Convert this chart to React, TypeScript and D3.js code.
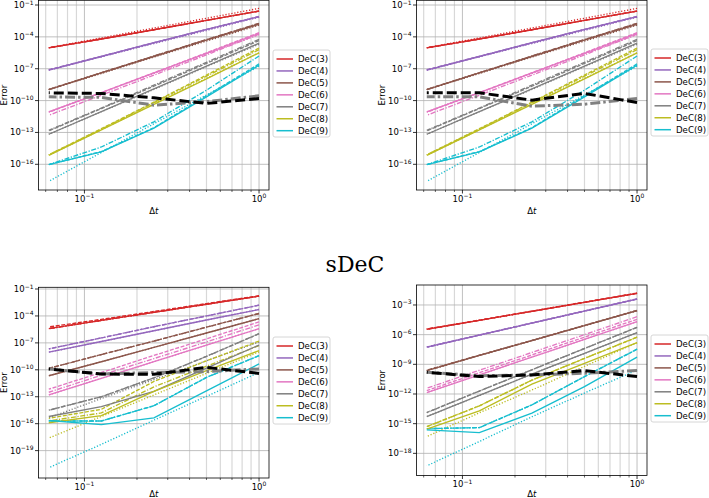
import React from "react";
import * as d3 from "d3";

// time steps
const dt = [1, 0.5, 0.25, 0.125, 0.0625];
const labels = ["DeC(3)", "DeC(4)", "DeC(5)", "DeC(6)", "DeC(7)", "DeC(8)", "DeC(9)"];
const colors = ["#d62728", "#9467bd", "#8c564b", "#e377c2", "#7f7f7f", "#bcbd22", "#17becf"];

// All error values given as log10(error), ordered like dt
// ---- top row (both panels share the coloured curves) ----
const topSolid = [
  [-1.57, -2.45, -3.33, -4.2, -5.03],
  [-2.1, -3.3, -4.55, -5.85, -7.13],
  [-2.82, -4.3, -5.85, -7.4, -8.96],
  [-3.67, -5.55, -7.4, -9.25, -11.06],
  [-4.6, -6.75, -8.9, -11.05, -13.17],
  [-5.5, -7.95, -10.35, -12.75, -15.15],
  [-6.66, -9.65, -12.6, -14.84, -16.03],
];
const topDashed = [
  [-1.57, -2.45, -3.33, -4.2, -5.03],
  [-2.08, -3.3, -4.55, -5.83, -7.1],
  [-2.75, -4.27, -5.82, -7.38, -8.95],
  [-3.6, -5.5, -7.38, -9.25, -11.1],
  [-4.35, -6.5, -8.65, -10.75, -12.85],
  [-5.05, -7.6, -10.15, -12.65, -15.1],
  [-6.55, -9.55, -12.55, -14.8, -16.03],
];
const topDashdot = [
  [-1.57, -2.45, -3.33, -4.2, -5.03],
  [-2.1, -3.32, -4.57, -5.85, -7.13],
  [-2.72, -4.25, -5.8, -7.38, -8.96],
  [-3.75, -5.7, -7.6, -9.5, -11.38],
  [-4.24, -6.4, -8.55, -10.7, -12.8],
  [-5.2, -7.7, -10.2, -12.7, -15.1],
  [-5.8, -9.02, -12.0, -14.37, -16.03],
];
const topDotted = [
  [-1.32, -2.25, -3.17, -4.1, -5.03],
  [-2.15, -3.4, -4.63, -5.88, -7.13],
  [-2.9, -4.4, -5.9, -7.45, -8.96],
  [-3.8, -5.6, -7.45, -9.25, -11.06],
  [-4.7, -6.8, -8.95, -11.05, -13.17],
  [-5.5, -7.9, -10.3, -12.75, -15.15],
  [-6.76, -9.47, -12.18, -14.89, -17.6],
];
const tlBlack = [-9.8, -10.27, -9.74, -9.33, -9.27];
const tlGray = [-9.55, -10.1, -10.43, -9.7, -9.65];
const trBlack = [-10.18, -9.33, -9.96, -9.27, -9.27];
const trGray = [-9.8, -10.34, -10.53, -9.65, -9.65];

// ---- bottom left ----
const blSolid = [
  [-1.79, -2.7, -3.6, -4.5, -5.42],
  [-3.28, -4.45, -5.65, -6.85, -8.04],
  [-4.3, -5.9, -7.5, -9.1, -10.66],
  [-5.42, -7.25, -9.1, -10.95, -12.8],
  [-7.24, -9.8, -12.4, -14.1, -15.2],
  [-7.85, -10.1, -12.4, -15.1, -15.9],
  [-9.35, -12.35, -15.35, -16.1, -15.65],
];
const blDashed = [
  [-1.75, -2.62, -3.5, -4.38, -5.23],
  [-2.8, -4.0, -5.2, -6.45, -7.67],
  [-3.73, -5.25, -6.8, -8.3, -9.84],
  [-4.67, -6.55, -8.4, -10.3, -12.16],
  [-5.98, -8.5, -10.9, -13.0, -14.5],
  [-6.8, -9.0, -11.3, -14.4, -15.4],
  [-8.42, -10.85, -14.0, -15.7, -15.7],
];
const blDashdot = [
  [-1.79, -2.7, -3.6, -4.5, -5.42],
  [-2.8, -4.0, -5.2, -6.45, -7.67],
  [-3.73, -5.25, -6.8, -8.3, -9.84],
  [-5.0, -6.9, -8.75, -10.6, -12.5],
  [-5.98, -8.5, -10.9, -13.0, -14.5],
  [-7.3, -9.6, -11.9, -14.8, -15.7],
  [-8.42, -10.85, -14.0, -15.7, -15.7],
];
const blDotted = [
  [-1.79, -2.7, -3.6, -4.5, -5.42],
  [-3.28, -4.45, -5.65, -6.85, -8.04],
  [-4.3, -5.9, -7.5, -9.1, -10.66],
  [-5.42, -7.25, -9.1, -10.95, -12.8],
  [-6.9, -9.0, -11.1, -13.2, -15.35],
  [-8.0, -10.4, -12.8, -15.2, -17.6],
  [-10.3, -12.95, -15.6, -18.3, -20.9],
];
const blBlack = [-10.4, -9.73, -10.5, -10.47, -9.9];
const blGray = [-9.9, -10.2, -10.3, -10.47, -9.9];

// ---- bottom right ----
const brSolid = [
  [-1.82, -2.73, -3.64, -4.55, -5.45],
  [-2.4, -3.62, -4.83, -6.05, -7.27],
  [-3.57, -5.08, -6.6, -8.1, -9.63],
  [-4.69, -6.48, -8.27, -10.06, -11.85],
  [-5.8, -7.9, -10.0, -12.15, -14.28],
  [-6.8, -8.9, -11.0, -13.7, -15.55],
  [-8.28, -11.25, -13.94, -15.9, -15.63],
];
const brDashed = [
  [-1.8, -2.71, -3.62, -4.53, -5.43],
  [-2.38, -3.6, -4.81, -6.03, -7.25],
  [-3.55, -5.06, -6.58, -8.08, -9.6],
  [-4.45, -6.25, -8.05, -9.85, -11.65],
  [-5.26, -7.4, -9.55, -11.7, -13.88],
  [-6.26, -8.4, -10.6, -13.2, -15.3],
  [-7.47, -10.24, -13.1, -15.4, -15.5],
];
const brDashdot = [
  [-1.82, -2.73, -3.64, -4.55, -5.45],
  [-2.4, -3.62, -4.83, -6.05, -7.27],
  [-3.57, -5.08, -6.6, -8.1, -9.63],
  [-4.18, -6.0, -7.8, -9.6, -11.42],
  [-5.26, -7.4, -9.55, -11.7, -13.88],
  [-6.26, -8.4, -10.6, -13.2, -15.3],
  [-7.47, -10.24, -13.1, -15.4, -15.5],
];
const brDotted = [
  [-1.82, -2.73, -3.64, -4.55, -5.45],
  [-2.4, -3.62, -4.83, -6.05, -7.27],
  [-3.57, -5.08, -6.6, -8.1, -9.63],
  [-4.69, -6.48, -8.27, -10.06, -11.85],
  [-5.8, -7.9, -10.0, -12.15, -14.28],
  [-6.8, -9.2, -11.6, -13.9, -16.3],
  [-9.57, -11.9, -14.3, -16.8, -19.26],
];
const brBlack = [-10.24, -9.63, -10.07, -10.24, -9.8];
const brGray = [-9.63, -9.9, -10.07, -10.15, -9.8];

const xTicksMajor = [0.1, 1];
const xTicksMinor = [0.06, 0.07, 0.08, 0.09, 0.2, 0.3, 0.4, 0.5, 0.6, 0.7, 0.8, 0.9];
const yTicksTop = [-1, -4, -7, -10, -13, -16];
const yTicksBL = [-1, -4, -7, -10, -13, -16, -19];
const yTicksBR = [-3, -6, -9, -12, -15, -18];

const FONT = "DejaVu Sans, sans-serif";

type PanelProps = {
  x0: number; x1: number; y0: number; y1: number;
  yTop: number; yBot: number; yTicks: number[];
  solid: number[][]; dashed: number[][]; dashdot: number[][]; dotted: number[][];
  black: number[]; gray: number[];
  legX: number; legY: number; clip: string;
};

function sup(e: number) {
  return e < 0 ? "\u2212" + Math.abs(e) : String(e);
}

function Panel(p: PanelProps) {
  const x = d3.scaleLog().domain([Math.pow(10, -1.263), Math.pow(10, 0.057)]).range([p.x0, p.x1]);
  const y = d3.scaleLog().domain([Math.pow(10, p.yBot), Math.pow(10, p.yTop)]).range([p.y1, p.y0]);
  const line = d3
    .line<number>()
    .x((_, i) => x(dt[i]))
    .y((v) => y(Math.pow(10, v)));
  const styles: { data: number[][]; dash: string | undefined }[] = [
    { data: p.dotted, dash: "1.2,1.8" },
    { data: p.dashdot, dash: "5,1.6,1.2,1.6" },
    { data: p.dashed, dash: "4,1.6" },
    { data: p.solid, dash: undefined },
  ];
  const xlabY = Math.min(p.y1 + 23.5, 496.5);
  return (
    <g>
      <defs>
        <clipPath id={p.clip}>
          <rect x={p.x0} y={p.y0} width={p.x1 - p.x0} height={p.y1 - p.y0} />
        </clipPath>
      </defs>
      {xTicksMinor.map((t) => (
        <line key={"gm" + t} x1={x(t)} x2={x(t)} y1={p.y0} y2={p.y1} stroke="#d8d8d8" strokeWidth={1.2} />
      ))}
      {xTicksMajor.map((t) => (
        <line key={"gM" + t} x1={x(t)} x2={x(t)} y1={p.y0} y2={p.y1} stroke="#b0b0b0" strokeWidth={0.8} />
      ))}
      {p.yTicks.map((e) => (
        <line key={"gy" + e} x1={p.x0} x2={p.x1} y1={y(Math.pow(10, e))} y2={y(Math.pow(10, e))} stroke="#b0b0b0" strokeWidth={0.8} />
      ))}
      <g clipPath={`url(#${p.clip})`}>
        {styles.map((s, si) =>
          s.data.map((row, k) => (
            <path key={si + "-" + k} d={line(row) || ""} fill="none" stroke={colors[k]} strokeWidth={1.35} strokeDasharray={s.dash} />
          ))
        )}
        <path d={line(p.gray) || ""} fill="none" stroke="#808080" strokeWidth={3} strokeDasharray="10,3,2.5,3" />
        <path d={line(p.black) || ""} fill="none" stroke="#000" strokeWidth={3} strokeDasharray="10,4" />
      </g>
      <rect x={p.x0} y={p.y0} width={p.x1 - p.x0} height={p.y1 - p.y0} fill="none" stroke="#000" strokeWidth={0.8} />
      {xTicksMinor.map((t) => (
        <line key={"tm" + t} x1={x(t)} x2={x(t)} y1={p.y1} y2={p.y1 + 2} stroke="#000" strokeWidth={0.6} />
      ))}
      {xTicksMajor.map((t) => (
        <g key={"tM" + t}>
          <line x1={x(t)} x2={x(t)} y1={p.y1} y2={p.y1 + 3.5} stroke="#000" strokeWidth={0.8} />
          <text x={x(t)} y={p.y1 + 11.5} fontSize={8.5} fontFamily={FONT} textAnchor="middle">
            10<tspan dy={-3.5} fontSize={6}>{sup(t === 1 ? 0 : -1)}</tspan>
          </text>
        </g>
      ))}
      {p.yTicks.map((e) => (
        <g key={"ty" + e}>
          <line x1={p.x0 - 3.5} x2={p.x0} y1={y(Math.pow(10, e))} y2={y(Math.pow(10, e))} stroke="#000" strokeWidth={0.8} />
          <text x={p.x0 - 5} y={y(Math.pow(10, e)) + 3} fontSize={8.5} fontFamily={FONT} textAnchor="end">
            10<tspan dy={-3.5} fontSize={6}>{sup(e)}</tspan>
          </text>
        </g>
      ))}
      <text x={(p.x0 + p.x1) / 2} y={xlabY} fontSize={8.5} fontFamily={FONT} textAnchor="middle" fontStyle="italic">
        <tspan fontStyle="normal">Δ</tspan>t
      </text>
      <text
        transform={`translate(${p.x0 - 32},${(p.y0 + p.y1) / 2}) rotate(-90)`}
        fontSize={8.5}
        fontFamily={FONT}
        textAnchor="middle"
      >
        Error
      </text>
      <g>
        <rect x={p.legX} y={p.legY} width={57} height={87} rx={2} fill="#fff" fillOpacity={0.8} stroke="#cccccc" strokeWidth={0.8} />
        {labels.map((l, k) => (
          <g key={l}>
            <line x1={p.legX + 3.5} x2={p.legX + 20} y1={p.legY + 9 + k * 11.95} y2={p.legY + 9 + k * 11.95} stroke={colors[k]} strokeWidth={1.5} />
            <text x={p.legX + 25} y={p.legY + 12.2 + k * 11.95} fontSize={8.6} fontFamily={FONT}>
              {l}
            </text>
          </g>
        ))}
      </g>
    </g>
  );
}

export default function App() {
  return (
    <svg width={709} height={498} style={{ position: "absolute", left: 0, top: 0, background: "#fff" }}>
      <Panel x0={38.5} x1={269} y0={0.3} y1={190} yTop={-0.557} yBot={-18.42} yTicks={yTicksTop}
        solid={topSolid} dashed={topDashed} dashdot={topDashdot} dotted={topDotted}
        black={tlBlack} gray={tlGray} legX={273} legY={50} clip="c1" />
      <Panel x0={416.5} x1={647} y0={0.3} y1={190} yTop={-0.557} yBot={-18.42} yTicks={yTicksTop}
        solid={topSolid} dashed={topDashed} dashdot={topDashdot} dotted={topDotted}
        black={trBlack} gray={trGray} legX={651} legY={49} clip="c2" />
      <Panel x0={38.5} x1={269} y0={287.3} y1={478} yTop={-0.81} yBot={-22.05} yTicks={yTicksBL}
        solid={blSolid} dashed={blDashed} dashdot={blDashdot} dotted={blDotted}
        black={blBlack} gray={blGray} legX={273} legY={337} clip="c3" />
      <Panel x0={416.5} x1={647} y0={285} y1={475.5} yTop={-0.98} yBot={-20.24} yTicks={yTicksBR}
        solid={brSolid} dashed={brDashed} dashdot={brDashdot} dotted={brDotted}
        black={brBlack} gray={brGray} legX={651} legY={335} clip="c4" />
      <text x={355} y={272} fontSize={22} fontFamily="DejaVu Serif, serif" textAnchor="middle">
        sDeC
      </text>
    </svg>
  );
}
